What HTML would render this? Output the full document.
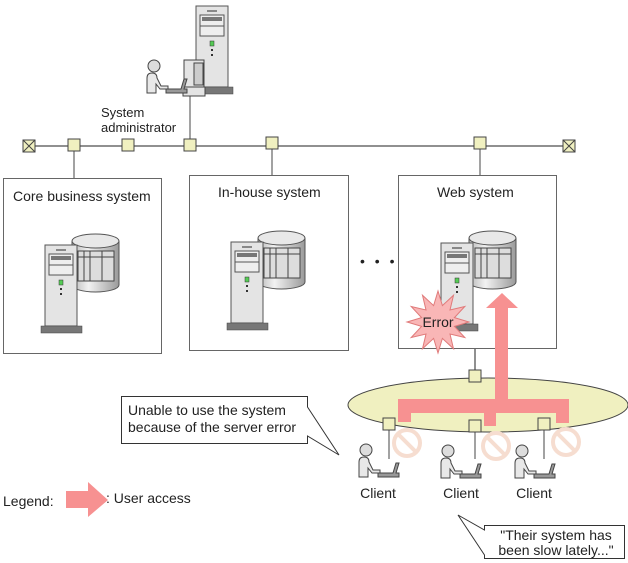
<!DOCTYPE html>
<html><head><meta charset="utf-8"><style>
html,body{margin:0;padding:0;background:#fff;}
svg{display:block;font-family:"Liberation Sans",Arial,sans-serif;}
</style></head><body>
<svg width="628" height="563" viewBox="0 0 628 563" xmlns="http://www.w3.org/2000/svg">
<defs>
<linearGradient id="cyl" x1="0" x2="1" y1="0" y2="0">
<stop offset="0" stop-color="#b8b8b8"/><stop offset="0.35" stop-color="#f2f2f2"/><stop offset="1" stop-color="#9a9a9a"/>
</linearGradient>
<g id="srv">
<rect x="0" y="0" width="32" height="81" fill="#e4e4e4" stroke="#555" stroke-width="1"/>
<line x1="11" y1="5" x2="21" y2="5" stroke="#888" stroke-width="2"/>
<rect x="4" y="9" width="24" height="21" fill="#eee" stroke="#555"/>
<rect x="6" y="11" width="20" height="4" fill="#777"/>
<line x1="4" y1="20" x2="28" y2="20" stroke="#555"/>
<rect x="14" y="35" width="4" height="5" fill="#5c5" stroke="#333" stroke-width="0.5"/>
<rect x="15" y="43" width="2" height="2" fill="#333"/>
<rect x="15" y="48" width="2" height="2" fill="#333"/>
<rect x="-4" y="81" width="41" height="7" fill="#777" stroke="#444" stroke-width="0.5"/>
</g>
<g id="db">
<path d="M0,8 L0,52 A23.5,7 0 0 0 47,52 L47,8" fill="url(#cyl)" stroke="#555"/>
<ellipse cx="23.5" cy="8" rx="23.5" ry="7" fill="#e8e8e8" stroke="#555"/>
<rect x="6" y="18" width="36" height="30" fill="#ddd" stroke="#444"/>
<line x1="6" y1="24" x2="42" y2="24" stroke="#444"/>
<line x1="12" y1="18" x2="12" y2="48" stroke="#444"/>
<line x1="18" y1="18" x2="18" y2="48" stroke="#444"/>
<line x1="30" y1="18" x2="30" y2="48" stroke="#444"/>
</g>
<g id="person">
<circle cx="0" cy="0" r="6" fill="#ddd" stroke="#444"/>
<path d="M-7,27 L-7,12 Q-7,7 -2,7 Q3,7 3,12 L7,20 L14,20 L14,23 L6,23 L2,18 L2,27 Z" fill="#e8e8e8" stroke="#444"/>
<path d="M12,27 L33,27 L33,23 L30,23 L33,13 L30,13 L27,23 L12,23 Z" fill="#999" stroke="#444"/>
</g>
<g id="nd"><rect x="-6" y="-6" width="12" height="12" fill="#f0f0c0" stroke="#444"/></g>
<g id="term"><rect x="-6" y="-6" width="12" height="12" fill="#f0f0c0" stroke="#444"/><path d="M-6,-6 L6,6 M6,-6 L-6,6" stroke="#444"/></g>
<g id="no"><circle cx="0" cy="0" r="13" fill="none" stroke="#f6ddd0" stroke-width="4"/><line x1="-9" y1="-9" x2="9" y2="9" stroke="#f6ddd0" stroke-width="4"/></g>
</defs>

<!-- admin -->
<use href="#srv" x="196" y="6"/>
<rect x="184" y="60" width="20" height="27" fill="#e4e4e4" stroke="#444"/>
<rect x="194" y="63" width="9" height="22" fill="#ccc" stroke="#444"/>
<rect x="183" y="87" width="22" height="9" fill="#e4e4e4" stroke="#444"/>
<use href="#person" x="154" y="66"/>
<text x="101" y="117" font-size="13" fill="#222">System</text>
<text x="101" y="132" font-size="13" fill="#222">administrator</text>

<!-- bus -->
<line x1="29" y1="146" x2="569" y2="146" stroke="#222"/>
<line x1="190" y1="96" x2="190" y2="146" stroke="#444"/>
<line x1="74" y1="146" x2="74" y2="178" stroke="#444"/>
<line x1="272" y1="143" x2="272" y2="175" stroke="#444"/>
<line x1="480" y1="143" x2="480" y2="175" stroke="#444"/>
<use href="#term" x="29" y="146"/><use href="#term" x="569" y="146"/>
<use href="#nd" x="74" y="145"/><use href="#nd" x="128" y="145"/><use href="#nd" x="190" y="145"/>
<use href="#nd" x="272" y="143"/><use href="#nd" x="480" y="143"/>

<!-- boxes -->
<rect x="3.5" y="178.5" width="158" height="175" fill="#fff" stroke="#666"/>
<rect x="189.5" y="175.5" width="159" height="175" fill="#fff" stroke="#666"/>
<rect x="398.5" y="175.5" width="158" height="173" fill="#fff" stroke="#666"/>
<text x="13" y="201" font-size="14" fill="#222">Core business system</text>
<text x="218" y="197" font-size="14" fill="#222">In-house system</text>
<text x="437" y="197" font-size="14" fill="#222">Web system</text>
<use href="#db" x="72" y="233"/><use href="#srv" x="45" y="245"/>
<use href="#db" x="258" y="230"/><use href="#srv" x="231" y="242"/>
<use href="#db" x="469" y="230"/><use href="#srv" x="441" y="243"/>
<text x="360" y="266" font-size="14" fill="#222" letter-spacing="3">• • •</text>

<!-- error -->
<polygon points="469,322 454.4,326.4 464.8,337.5 450,334 453.5,348.8 442.4,338.4 438,353 433.6,338.4 422.5,348.8 426,334 411.2,337.5 421.6,326.4 407,322 421.6,317.6 411.2,306.5 426,310 422.5,295.2 433.6,305.6 438,291 442.4,305.6 453.5,295.2 450,310 464.8,306.5 454.4,317.6" fill="#f9b6b6" stroke="#e07a7a"/>
<text x="438" y="327" font-size="14" fill="#222" text-anchor="middle">Error</text>

<!-- ellipse network -->
<line x1="475" y1="349" x2="475" y2="376" stroke="#222"/>
<ellipse cx="488" cy="405" rx="140" ry="27" fill="#f0f0c0" stroke="#444"/>
<use href="#nd" x="475" y="376"/>
<line x1="389" y1="430" x2="389" y2="459" stroke="#444"/>
<line x1="475" y1="432" x2="475" y2="459" stroke="#444"/>
<line x1="544" y1="430" x2="544" y2="459" stroke="#444"/>
<use href="#no" x="407" y="443"/><use href="#no" x="496" y="446"/><use href="#no" x="566" y="442"/>
<!-- pink arrow -->
<path d="M398,399 L495,399 L495,308 L486,308 L502,293 L518,308 L508,308 L508,399 L569,399 L569,423 L556,423 L556,413 L496,413 L496,426 L484,426 L484,413 L411,413 L411,422 L398,422 Z" fill="#f79191"/>
<use href="#nd" x="389" y="424"/><use href="#nd" x="475" y="426"/><use href="#nd" x="544" y="424"/>
<use href="#person" x="366" y="450"/><use href="#person" x="448" y="451"/><use href="#person" x="522" y="451"/>
<text x="378" y="498" font-size="14" fill="#222" text-anchor="middle">Client</text>
<text x="461" y="498" font-size="14" fill="#222" text-anchor="middle">Client</text>
<text x="534" y="498" font-size="14" fill="#222" text-anchor="middle">Client</text>

<!-- callout 1 -->
<path d="M121.5,396.5 L307.5,396.5 L307.5,407 L339,455 L307.5,436 L307.5,443.5 L121.5,443.5 Z" fill="#fff" stroke="#333"/>
<text x="128" y="415" font-size="14" fill="#222">Unable to use the system</text>
<text x="128" y="432" font-size="14" fill="#222">because of the server error</text>

<!-- callout 2 -->
<path d="M484.5,525.5 L624.5,525.5 L624.5,558.5 L484.5,558.5 L484.5,555 L458,515 L484.5,530 Z" fill="#fff" stroke="#333"/>
<text x="556" y="540" font-size="14" fill="#222" text-anchor="middle">"Their system has</text>
<text x="556" y="555" font-size="14" fill="#222" text-anchor="middle">been slow lately..."</text>

<!-- legend -->
<text x="3" y="506" font-size="14" fill="#222">Legend:</text>
<path d="M66,491 L88,491 L88,482 L108,500 L88,517 L88,508 L66,508 Z" fill="#f79191"/>
<text x="106" y="503" font-size="14" fill="#222">: User access</text>
</svg>
</body></html>
